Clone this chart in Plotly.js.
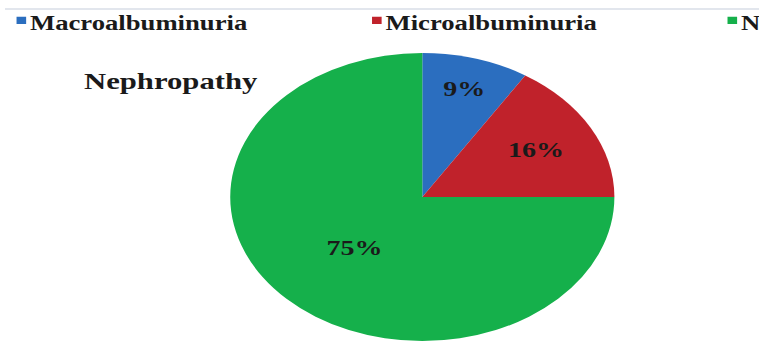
<!DOCTYPE html>
<html>
<head>
<meta charset="utf-8">
<script src="https://cdn.plot.ly/plotly-3.0.1.min.js"></script>
<style>
  html, body { margin: 0; padding: 0; overflow: hidden; background: #fff; width: 759px; height: 347px; }
  #wrap { width: 759px; height: 347px; overflow: hidden; position: relative; }
  #chart { width: 900px; height: 347px; transform: scaleX(1.3339); transform-origin: 0 0; }
  #chart g.legendpoints { transform: translate(21.5px, -2px) scale(0.6); }
</style>
</head>
<body>
<div id="wrap"><div id="chart"></div></div>
<script>
const categories = ["Macroalbuminuria", "Microalbuminuria", "Normoalbuminuria"];
const values = [9, 16, 75];
const sliceColors = ["#2B6EBF", "#C0222B", "#15B04B"];
const chartTitle = "Nephropathy";

const W = 900, H = 347, T = 3;
const PH = H - T; // paper height
const cx = 316.6, cyTop = 197, r = 144;
const py = (yTop) => (H - yTop) / PH; // pixel-from-top -> paper fraction

const trace = {
  type: "pie",
  labels: categories,
  values: values,
  sort: false,
  direction: "clockwise",
  rotation: 0,
  textinfo: "percent",
  texttemplate: "%{percent:.0%}",
  textposition: "inside",
  insidetextorientation: "horizontal",
  hoverinfo: "none",
  marker: { colors: sliceColors, line: { width: 0 } },
  textfont: { family: "Liberation Serif, Times New Roman, serif", size: 21, color: "#1a1a1a", weight: "bold" },
  domain: {
    x: [(cx - r) / W, (cx + r) / W],
    y: [py(cyTop + r), py(cyTop - r)]
  }
};

const layout = {
  width: W,
  height: H,
  margin: { l: 0, r: 0, t: T, b: 0, autoexpand: false },
  paper_bgcolor: "#ffffff",
  showlegend: true,
  legend: {
    orientation: "h",
    x: -17.5 / W,
    xanchor: "left",
    y: 1.0001,
    yanchor: "top",
    entrywidth: 221.5,
    font: { family: "Liberation Serif, Times New Roman, serif", size: 20, color: "#1a1a1a", weight: "bold" },
    bgcolor: "rgba(0,0,0,0)"
  },
  title: {
    text: chartTitle,
    x: 63 / W,
    xanchor: "left",
    xref: "paper",
    y: 1 - 81 / H,
    yanchor: "middle",
    yref: "container",
    font: { family: "Liberation Serif, Times New Roman, serif", size: 23, color: "#1a1a1a", weight: "bold" }
  },
  shapes: [{
    type: "line", xref: "paper", yref: "paper",
    x0: 3.75 / W, x1: 1, y0: py(9), y1: py(9),
    line: { color: "#c6cedb", width: 1 }
  }]
};

Plotly.newPlot("chart", [trace], layout, { staticPlot: true, displayModeBar: false });
</script>
</body>
</html>
